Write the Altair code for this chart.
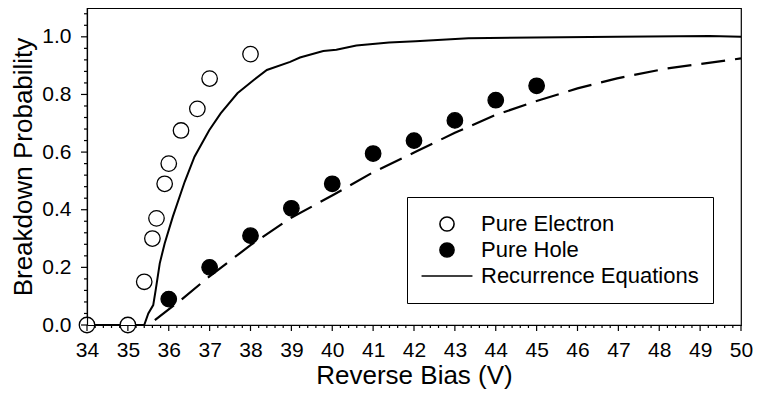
import altair as alt
import pandas as pd

FONT = "Liberation Sans"
PLOT_W = 654
PLOT_H = 317

electron_bias = [34.0, 35.0, 35.4, 35.6, 35.7, 35.9, 36.0, 36.3, 36.7, 37.0, 38.0]
electron_prob = [0.0, 0.0, 0.15, 0.30, 0.37, 0.49, 0.56, 0.675, 0.75, 0.855, 0.94]

hole_bias = [36, 37, 38, 39, 40, 41, 42, 43, 44, 45]
hole_prob = [0.09, 0.20, 0.31, 0.405, 0.49, 0.595, 0.64, 0.71, 0.78, 0.83]

# recurrence-equation curve for electrons (solid)
elec_curve_bias = [34.0, 35.4, 35.5, 35.62, 35.68, 35.78, 35.9, 36.1, 36.39, 36.63,
                   36.99, 37.27, 37.68, 38.08, 38.4, 38.97, 39.21, 39.78, 40.1, 40.59,
                   41.39, 42.04, 43.33, 44.95, 46.97, 49.23, 50.0]
elec_curve_prob = [0.0, 0.0, 0.04, 0.069, 0.121, 0.214, 0.283, 0.376, 0.497, 0.584,
                   0.676, 0.734, 0.804, 0.85, 0.885, 0.913, 0.928, 0.951, 0.955, 0.97,
                   0.98, 0.985, 0.995, 0.998, 1.0, 1.003, 1.0]

# recurrence-equation curve for holes (dashed)
hole_curve_bias = [35.66, 36.3, 36.99, 38.0, 38.97, 40.02, 41.0, 42.04, 43.0, 43.98,
                   44.95, 46.0, 46.97, 48.18, 50.0]
hole_curve_prob = [0.017, 0.087, 0.168, 0.277, 0.37, 0.451, 0.53, 0.601, 0.667, 0.728,
                   0.775, 0.821, 0.856, 0.89, 0.925]

series_names = ["Pure Electron", "Pure Hole", "Recurrence Equations"]

x_major_ticks = list(range(34, 51))
x_minor_ticks = [round(34 + 0.2 * i, 1) for i in range(81) if i % 5]
y_major_ticks = [0.0, 0.2, 0.4, 0.6, 0.8, 1.0]
y_minor_ticks = [round(0.04 * i, 2) for i in range(28) if i % 5]

# ---- tables ----
points = pd.DataFrame({
    "bias": electron_bias + hole_bias,
    "prob": electron_prob + hole_prob,
    "series": [series_names[0]] * len(electron_bias) + [series_names[1]] * len(hole_bias),
})
elec_curve = pd.DataFrame({"bias": elec_curve_bias, "prob": elec_curve_prob})
hole_curve = pd.DataFrame({"bias": hole_curve_bias, "prob": hole_curve_prob})
xt_major = pd.DataFrame({"bias": x_major_ticks})
xt_minor = pd.DataFrame({"bias": x_minor_ticks})
yt_major = pd.DataFrame({"prob": y_major_ticks})
yt_minor = pd.DataFrame({"prob": y_minor_ticks})

x_scale = alt.Scale(domain=[34, 50], nice=False, zero=False)
y_scale = alt.Scale(domain=[0, 1.1], nice=False, zero=False)

x_axis = alt.Axis(
    values=x_major_ticks, title="Reverse Bias (V)", grid=False, format="d",
    labelOverlap=False, labelFlush=False, orient="bottom",
    ticks=False, labelPadding=14, titlePadding=2, zindex=1,
)
y_axis = alt.Axis(
    values=y_major_ticks, title="Breakdown Probability", grid=False, format=".1f",
    labelOverlap=False, labelFlush=False, orient="left",
    ticks=False, labelPadding=16, titlePadding=5, zindex=1,
)

X = alt.X("bias:Q", scale=x_scale, axis=x_axis)
Y = alt.Y("prob:Q", scale=y_scale, axis=y_axis)
# tick layers share the scales; the axis itself comes from the main layers
Xt = alt.X("bias:Q", scale=x_scale)
Yt = alt.Y("prob:Q", scale=y_scale)

legend = alt.Legend(
    title=None, orient="none", legendX=320, legendY=189, direction="vertical",
    labelFont=FONT, labelFontSize=22, labelColor="black", labelLimit=400,
    symbolOffset=15, labelOffset=23, symbolSize=200,
    padding=14, strokeColor="black", fillColor="white",
    symbolStrokeColor="black", symbolStrokeWidth=1.6, symbolOpacity=1,
    clipHeight=26, rowPadding=0,
)

solid = alt.Chart(elec_curve).mark_line(color="black", strokeWidth=2).encode(x=X, y=Y)
dashed = alt.Chart(hole_curve).mark_line(color="black", strokeWidth=2.2,
                                         strokeDash=[24, 10]).encode(x=X, y=Y)
pts = alt.Chart(points).mark_point(filled=True, strokeWidth=1.3, opacity=1,
                                   size=240).encode(
    x=X, y=Y,
    fill=alt.Fill("series:N", scale=alt.Scale(domain=series_names,
                                              range=["white", "black", "black"]),
                  legend=legend),
    stroke=alt.Stroke("series:N", scale=alt.Scale(domain=series_names,
                                                  range=["black", "black", "black"]),
                      legend=legend),
    shape=alt.Shape("series:N", scale=alt.Scale(domain=series_names,
                                                range=["circle", "circle",
                                                       "M-3.6,0H3.6"]),
                    legend=legend),
)

# axis tick marks (major and minor), placed through the shared scales
tick_style = dict(color="black", strokeWidth=1.2)
xtick_major = alt.Chart(xt_major).mark_rule(**tick_style).encode(
    x=Xt, y=alt.value(PLOT_H), y2=alt.value(PLOT_H + 6))
xtick_minor = alt.Chart(xt_minor).mark_rule(**tick_style).encode(
    x=Xt, y=alt.value(PLOT_H), y2=alt.value(PLOT_H + 3))
ytick_major = alt.Chart(yt_major).mark_rule(**tick_style).encode(
    y=Yt, x=alt.value(0), x2=alt.value(-6))
ytick_minor = alt.Chart(yt_minor).mark_rule(**tick_style).encode(
    y=Yt, x=alt.value(0), x2=alt.value(-3))

chart = (
    alt.layer(solid, dashed, pts, xtick_major, xtick_minor, ytick_major, ytick_minor)
    .properties(
        width=PLOT_W, height=PLOT_H,
        padding={"left": 79, "top": 0, "right": 12, "bottom": 68},
        autosize=alt.AutoSizeParams(type="none"),
        background="white",
    )
    .configure_view(stroke="black", strokeWidth=1.2)
    .configure_axis(
        labelFont=FONT, labelFontSize=21, labelColor="black",
        titleFont=FONT, titleFontSize=26, titleFontWeight="normal", titleColor="black",
        domainColor="black", domainWidth=1.2,
    )
)

chart.save("out.html", embed_options={"renderer": "svg", "actions": False})
